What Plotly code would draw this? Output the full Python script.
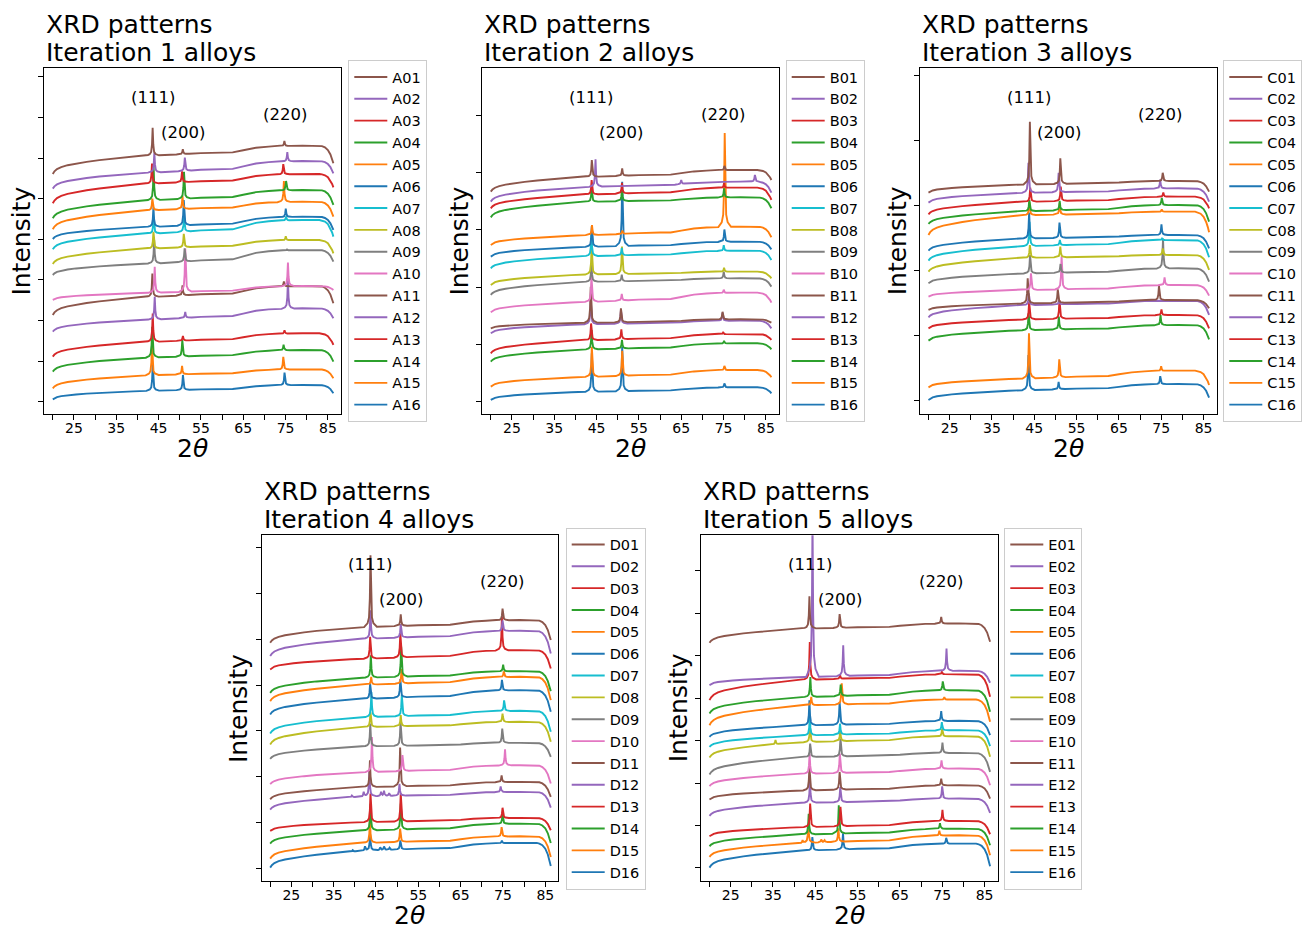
import numpy as np
import plotly.graph_objects as go

FONT = "DejaVu Sans"
TAB10 = ["#1f77b4", "#ff7f0e", "#2ca02c", "#d62728", "#9467bd",
         "#8c564b", "#e377c2", "#7f7f7f", "#bcbd22", "#17becf"]

# fcc reflections (deg 2-theta) and their labels
HKL = ["(111)", "(200)", "(220)"]
HKL_2THETA = [43.7, 50.85, 74.9]
HKL_SHIFT_WEIGHT = [0.86, 1.0, 1.47]     # lattice shift grows with angle
HKL_LABEL_X = [43.7, 50.8, 74.8]
HKL_LABEL_Y = [0.916, 0.815, 0.866]      # fraction of the axis height

# background of the scans: low-angle rise, mid plateau step, high-angle drop
BG_START_X = [20.0, 20.4, 21.0, 22.0, 23.5, 25.5, 28.0, 31.0, 35.0, 39.0, 42.5]
BG_START_F = [1.0, 0.86, 0.74, 0.63, 0.53, 0.44, 0.35, 0.26, 0.17, 0.08, 0.02]
BG_MID_X = [45.0, 50.0, 55.0, 60.0, 62.5, 65.0, 68.0, 71.0, 75.0, 79.0, 83.0]
BG_MID_F = [0.0, 0.1, 0.22, 0.3, 0.3, 0.52, 0.78, 0.9, 0.96, 1.0, 1.0]
BG_END_X = [83.6, 84.3, 85.0, 85.6, 86.0, 86.3]
BG_END_F = [0.03, 0.1, 0.25, 0.5, 0.75, 1.0]

# peak profile: offset from the peak centre (deg) and fraction of its height
PEAK_DX = [-1.5, -0.7, -0.35, -0.15, 0.0, 0.15, 0.35, 0.7, 1.5]
PEAK_F = [0.0, 0.05, 0.13, 0.4, 1.0, 0.4, 0.13, 0.05, 0.0]

# ---- Iteration 1 (A01..A16) --------------------------------------------
A_BASE = [777, 726, 693, 643, 613, 563, 543, 498, 453, 365, 353, 285, 218, 171, 118, 71]
A_RISE = [56, 49, 60, 55, 58, 37, 48, 47, 35, 22, 55, 37, 45, 43, 40, 26]
A_STEP = [29, 34, 28, 30, 25, 30, 40, 25, 40, 20, 32, 33, 25, 22, 17, 17]
A_DROP = [53, 37, 40, 45, 45, 40, 50, 40, 35, 12, 52, 30, 35, 35, 27, 25]
A_H111 = [83, 60, 60, 100, 35, 58, 50, 50, 70, 78, 70, 68, 85, 92, 95, 77]
A_H200 = [15, 40, 33, 81, 39, 76, 45, 40, 40, 130, 30, 18, 14, 49, 25, 45]
A_H220 = [15, 28, 31, 28, 63, 25, 12, 12, 3, 71, 15, 85, 10, 17, 38, 38]
A_SHIFT = [-0.12, 0.35, -0.3, 0.15, -0.2, 0.1, 0.15, 0.1, 0.3, 0.45, -0.2, 0.45, -0.1, -0.25, -0.3, -0.1]

# ---- Iteration 2 (B01..B16) --------------------------------------------
B_BASE = [713, 683, 660, 638, 538, 503, 475, 420, 398, 338, 275, 271, 223, 195, 113, 68]
B_RISE = [45, 45, 42, 47, 30, 30, 37, 32, 40, 32, 17, 28, 40, 37, 30, 25]
B_STEP = [20, 15, 20, 13, 25, 15, 16, 8, 10, 27, 10, 10, 18, 18, 20, 13]
B_DROP = [30, 33, 37, 33, 32, 23, 28, 20, 25, 30, 10, 23, 18, 18, 22, 18]
B_H111 = [50, 82, 43, 40, 30, 62, 68, 83, 55, 75, 108, 72, 50, 58, 90, 115]
B_H200 = [22, 12, 32, 35, 10, 193, 22, 82, 20, 20, 42, 40, 30, 26, 75, 133]
B_H220 = [13, 20, 14, 27, 282, 37, 17, 12, 20, 10, 23, 24, 5, 8, 13, 12]
B_SHIFT = [0.2, 0.0, 0.15, 0.15, 0.25, 0.2, 0.1, 0.15, 0.1, 0.1, -0.1, -0.1, 0.0, 0.15, 0.2, 0.2]

# ---- Iteration 3 (C01..C16) --------------------------------------------
C_BASE = [690, 665, 638, 610, 598, 528, 505, 470, 423, 373, 333, 328, 285, 253, 108, 73]
C_RISE = [25, 30, 38, 39, 60, 37, 44, 42, 30, 20, 20, 37, 27, 32, 27, 30]
C_STEP = [10, 13, 15, 18, 10, 10, 18, 8, 15, 15, 10, 13, 13, 15, 23, 18]
C_DROP = [32, 40, 35, 50, 62, 40, 52, 45, 40, 32, 25, 43, 40, 43, 43, 41]
C_H111 = [188, 90, 42, 33, 40, 78, 73, 38, 55, 50, 75, 35, 53, 50, 135, 105]
C_H200 = [77, 58, 43, 28, 34, 46, 16, 32, 26, 98, 41, 13, 56, 38, 54, 22]
C_H220 = [25, 27, 13, 22, 7, 32, 5, 20, 90, 23, 42, 0, 17, 30, 14, 24]
C_SHIFT = [0.3, -0.1, 0.4, 0.15, 0.15, 0.1, 0.2, 0.3, 0.35, 0.6, -0.3, 0.0, 0.1, -0.05, 0.05, -0.1]

# ---- Iteration 4 (D01..D16) --------------------------------------------
D_BASE = [763, 728, 668, 611, 590, 548, 493, 463, 405, 328, 283, 255, 178, 153, 116, 93]
D_RISE = [48, 53, 33, 46, 50, 48, 50, 53, 38, 37, 37, 40, 27, 40, 48, 52]
D_STEP = [20, 23, 25, 19, 23, 25, 18, 15, 10, 20, 15, 13, 12, 20, 19, 22]
D_DROP = [60, 68, 55, 60, 70, 65, 63, 60, 42, 55, 45, 47, 37, 58, 62, 69]
D_H111 = [215, 85, 65, 67, 23, 45, 75, 45, 68, 105, 80, 78, 85, 80, 67, 50]
D_H200 = [35, 40, 72, 90, 43, 55, 63, 33, 71, 48, 116, 36, 84, 78, 40, 27]
D_H220 = [35, 32, 100, 20, 17, 32, 32, 25, 43, 48, 20, 17, 31, 30, 28, 8]
D_SHIFT = [0.0, 0.0, -0.1, 0.1, 0.2, -0.1, 0.25, 0.0, -0.05, 0.4, -0.15, -0.3, 0.0, 0.0, -0.15, -0.1]

# ---- Iteration 5 (E01..E16) --------------------------------------------
E_BASE = [758, 613, 605, 553, 528, 468, 438, 418, 373, 323, 273, 236, 163, 141, 116, 93]
E_RISE = [43, 25, 62, 50, 60, 35, 35, 47, 53, 38, 28, 40, 28, 36, 43, 52]
E_STEP = [15, 18, 16, 20, 17, 13, 15, 17, 12, 15, 15, 12, 18, 17, 22, 20]
E_DROP = [55, 36, 68, 65, 67, 43, 48, 62, 57, 50, 40, 43, 40, 50, 60, 68]
E_H111 = [97, 480, 113, 60, 25, 75, 55, 45, 40, 60, 70, 67, 70, 62, 57, 40]
E_H200 = [41, 92, 11, 34, 63, 68, 33, 33, 53, 58, 53, 45, 58, 85, 40, 48]
E_H220 = [20, 67, 7, 27, 8, 30, 25, 23, 31, 25, 20, 37, 34, 17, 15, 18]
E_SHIFT = [-0.1, 0.75, 0.0, 0.15, 0.4, -0.1, 0.0, 0.05, 0.1, -0.05, -0.1, 0.05, 0.1, -0.3, -0.4, 0.7]

# B02 is a bcc pattern: (110), (200), (211)
PEAK_CENTRES_OVERRIDE = {"B02": [44.75, 65.0, 82.4]}
# minor secondary-phase reflections (centre, height)
EXTRA_PEAKS = {
    "D12": [(39.3, 5), (42.1, 14), (46.2, 12), (46.9, 15), (48.1, 8)],
    "D16": [(39.5, 4), (42.4, 12), (46.0, 8), (46.9, 10), (48.2, 6)],
    "E08": [(35.6, 13)],
    "E15": [(42.0, 8), (46.4, 8), (47.2, 6)],
}

SERIES = {
    "A": (A_BASE, A_RISE, A_STEP, A_DROP, A_H111, A_H200, A_H220, A_SHIFT),
    "B": (B_BASE, B_RISE, B_STEP, B_DROP, B_H111, B_H200, B_H220, B_SHIFT),
    "C": (C_BASE, C_RISE, C_STEP, C_DROP, C_H111, C_H200, C_H220, C_SHIFT),
    "D": (D_BASE, D_RISE, D_STEP, D_DROP, D_H111, D_H200, D_H220, D_SHIFT),
    "E": (E_BASE, E_RISE, E_STEP, E_DROP, E_H111, E_H200, E_H220, E_SHIFT),
}

# ---- figure geometry (pixels) -----------------------------------------
FIG_W, FIG_H = 1305, 929
AX_W, AX_H = 296.5, 346.0
AX_BOX = {"A": (44.3, 68.3), "B": (482.3, 68.3), "C": (920.0, 68.3),
          "D": (261.7, 535.3), "E": (701.0, 535.3)}
LEGEND_POS = {"A": (348.3, 60.0), "B": (785.7, 60.0), "C": (1223.3, 60.0),
              "D": (565.7, 527.5), "E": (1004.3, 527.5)}
Y_TOP = {"A": 1038, "B": 1038, "C": 1038, "D": 1037, "E": 1037}
Y_TICKS = {"A": (38, 121.8, 9), "B": (38, 171.8, 6), "C": (40, 195.0, 6),
           "D": (39, 137.3, 8), "E": (40, 127.3, 8)}
X_RANGE = [18.0, 88.05]
X_TICKS = list(range(20, 90, 5))
X_TICKTEXT = [str(v) if v % 10 == 5 else "" for v in X_TICKS]


def px(x):
    return x / FIG_W


def py(y):
    return 1 - y / FIG_H


def pattern(base, rise, step, drop, heights, centres, extra=()):
    bx = np.array(BG_START_X + BG_MID_X + BG_END_X)
    by = np.concatenate([
        base - rise * np.array(BG_START_F),
        base + step * np.array(BG_MID_F),
        base + step - drop * np.array(BG_END_F),
    ])
    peaks = [(c, h) for c, h in zip(centres, heights) if h > 0] + list(extra)
    dx = np.array(PEAK_DX)
    nodes = set(bx.tolist())
    for c, _ in peaks:
        nodes.update((c + dx).tolist())
    x = np.array(sorted(v for v in nodes if BG_START_X[0] <= v <= BG_END_X[-1]))
    y = np.interp(x, bx, by)
    for c, h in peaks:
        y = y + h * np.interp(x, c + dx, PEAK_F, left=0.0, right=0.0)
    return x, y


fig = go.Figure()
annotations = []
layout = {}

for k, letter in enumerate("ABCDE"):
    n = k + 1
    xa = "x" if n == 1 else f"x{n}"
    ya = "y" if n == 1 else f"y{n}"
    leg = "legend" if n == 1 else f"legend{n}"
    base, rise, step, drop, h111, h200, h220, shift = SERIES[letter]

    # draw the last alloy first so the first one lies on top
    for i in range(15, -1, -1):
        name = f"{letter}{i + 1:02d}"
        centres = PEAK_CENTRES_OVERRIDE.get(
            name, [p + shift[i] * w for p, w in zip(HKL_2THETA, HKL_SHIFT_WEIGHT)])
        x, y = pattern(base[i], rise[i], step[i], drop[i],
                       [h111[i], h200[i], h220[i]], centres,
                       EXTRA_PEAKS.get(name, ()))
        fig.add_trace(go.Scatter(
            x=x, y=y, mode="lines", name=name,
            line=dict(color=TAB10[(15 - i) % 10], width=1.9),
            xaxis=xa, yaxis=ya, legend=leg, hoverinfo="skip"))

    left, top = AX_BOX[letter]
    t0, dt, nt = Y_TICKS[letter]
    axis_common = dict(showline=True, mirror=True, linecolor="black", linewidth=1,
                       ticks="outside", ticklen=5, tickwidth=1, tickcolor="black",
                       showgrid=False, zeroline=False,
                       tickfont=dict(family=FONT, size=14, color="black"))
    layout["xaxis" if n == 1 else f"xaxis{n}"] = dict(
        domain=[px(left), px(left + AX_W)], anchor=ya, range=X_RANGE,
        tickmode="array", tickvals=X_TICKS, ticktext=X_TICKTEXT,
        ticklabelstandoff=-4, **axis_common)
    layout["yaxis" if n == 1 else f"yaxis{n}"] = dict(
        domain=[py(top + AX_H), py(top)], anchor=xa, range=[0, Y_TOP[letter]],
        tickmode="array", tickvals=[t0 + j * dt for j in range(nt)],
        showticklabels=False, **axis_common)

    lx, ly = LEGEND_POS[letter]
    layout[leg] = dict(x=px(lx), y=py(ly), xanchor="left", yanchor="top",
                       xref="paper", yref="paper", traceorder="reversed",
                       itemwidth=33,
                       bgcolor="rgba(255,255,255,0.8)", bordercolor="#cccccc",
                       borderwidth=1, font=dict(family=FONT, size=14.5, color="black"))

    # titles
    annotations.append(dict(text="XRD patterns", x=px(left), y=py(top - 44.0),
                            xref="paper", yref="paper", xanchor="left", yanchor="middle",
                            showarrow=False, font=dict(family=FONT, size=25, color="black")))
    annotations.append(dict(text=f"Iteration {n} alloys", x=px(left), y=py(top - 15.6),
                            xref="paper", yref="paper", xanchor="left", yanchor="middle",
                            showarrow=False, font=dict(family=FONT, size=25, color="black")))
    # axis titles
    annotations.append(dict(text="Intensity", x=px(left - 23), y=py(top + AX_H / 2),
                            xref="paper", yref="paper", xanchor="center", yanchor="middle",
                            textangle=-90, showarrow=False,
                            font=dict(family=FONT, size=25, color="black")))
    annotations.append(dict(text="2<i>θ</i>", x=px(left + AX_W / 2), y=py(top + AX_H + 34),
                            xref="paper", yref="paper", xanchor="center", yanchor="middle",
                            showarrow=False, font=dict(family=FONT, size=25, color="black")))
    # reflection labels
    for lab, hx, hy in zip(HKL, HKL_LABEL_X, HKL_LABEL_Y):
        annotations.append(dict(text=lab, x=hx, y=hy, xref=xa, yref=f"{ya} domain",
                                xanchor="center", yanchor="middle", showarrow=False,
                                font=dict(family=FONT, size=16.5, color="black")))

fig.update_layout(
    width=FIG_W, height=FIG_H,
    margin=dict(l=0, r=0, t=0, b=0, autoexpand=False),
    paper_bgcolor="white", plot_bgcolor="white",
    showlegend=True, annotations=annotations, **layout)

fig.write_html("out.html")
